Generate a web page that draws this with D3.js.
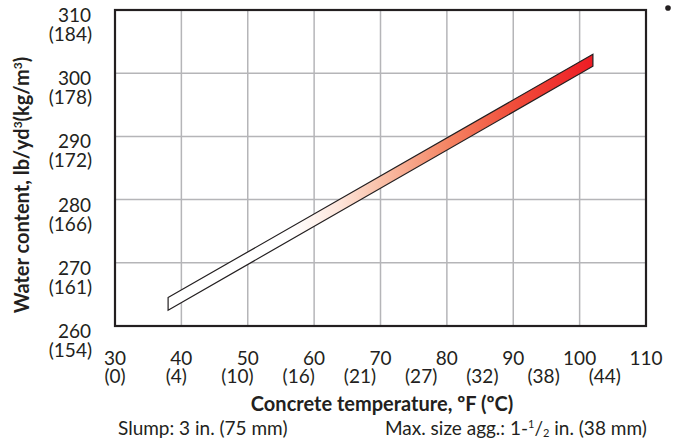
<!DOCTYPE html>
<html>
<head>
<meta charset="utf-8">
<style>
  body { margin: 0; background: #fff; }
  svg { font-family: Lato, "Open Sans", sans-serif; }
  .grid line { stroke: #b5b5b8; stroke-width: 1.5px; }
  .lbl { font-size: 19px; fill: #231f20; }
  .ttl { font-size: 20px; font-weight: bold; fill: #231f20; }
</style>
</head>
<body>
<svg width="675" height="440"></svg>
<script src="https://d3js.org/d3.v7.min.js"></script>
<script>
// data
var tempF = [38, 102];
var waterUpper = [264.5, 303.0];
var waterLower = [262.5, 301.1];

var xTicks = [30, 40, 50, 60, 70, 80, 90, 100, 110];
var celsiusLabels = ["(0)", "(4)", "(10)", "(16)", "(21)", "(27)", "(32)", "(38)", "(44)"];
var yTicks = [260, 270, 280, 290, 300, 310];
var kgLabels = ["(154)", "(161)", "(166)", "(172)", "(178)", "(184)"];

var svg = d3.select("svg");
var mLeft = 115, mRight = 646, mTop = 10, mBottom = 326;

var x = d3.scaleLinear().domain([30, 110]).range([mLeft, mRight]);
var y = d3.scaleLinear().domain([260, 310]).range([mBottom, mTop]);
// celsius labels sit on their own even spacing in the original
var xc = d3.scalePoint().domain(celsiusLabels).range([x(30), x(103.8)]);

// grid
var grid = svg.append("g").attr("class", "grid");
grid.selectAll(".vx").data(xTicks.slice(1, -1)).enter().append("line")
  .attr("x1", function(d) { return x(d); }).attr("x2", function(d) { return x(d); })
  .attr("y1", mTop).attr("y2", mBottom);
grid.selectAll(".hy").data(yTicks.slice(1, -1)).enter().append("line")
  .attr("x1", mLeft).attr("x2", mRight)
  .attr("y1", function(d) { return y(d); }).attr("y2", function(d) { return y(d); });

// gradient band, white on the cool end to red on the hot end
var defs = svg.append("defs");
var grad = defs.append("linearGradient").attr("id", "band")
  .attr("gradientUnits", "userSpaceOnUse")
  .attr("x1", x(tempF[0])).attr("x2", x(tempF[1])).attr("y1", 0).attr("y2", 0);
[[0, "#ffffff"], [0.29, "#ffffff"], [0.40, "#fde6dc"], [0.5, "#f9c0a8"],
 [0.66, "#f48463"], [0.81, "#f04e3b"], [1, "#ed1c24"]]
  .forEach(function(s) { grad.append("stop").attr("offset", s[0]).attr("stop-color", s[1]); });

var area = d3.area()
  .x(function(d, i) { return x(tempF[i]); })
  .y0(function(d, i) { return y(waterLower[i]); })
  .y1(function(d, i) { return y(waterUpper[i]); });

svg.append("path")
  .datum(tempF)
  .attr("d", area)
  .attr("fill", "url(#band)")
  .attr("stroke", "#231f20")
  .attr("stroke-width", 1.2)
  .attr("stroke-linejoin", "miter");

// frame
svg.append("rect")
  .attr("x", mLeft).attr("y", mTop)
  .attr("width", mRight - mLeft).attr("height", mBottom - mTop)
  .attr("fill", "none").attr("stroke", "#231f20").attr("stroke-width", 2.2);

// y labels
var yl = svg.append("g").attr("class", "lbl").attr("text-anchor", "end");
yl.selectAll(".a").data(yTicks).enter().append("text")
  .attr("x", 91).attr("y", function(d) { return y(d) + 12; })
  .text(function(d) { return d; });
yl.selectAll(".b").data(yTicks).enter().append("text")
  .attr("x", 92).attr("y", function(d) { return y(d) + 31; })
  .text(function(d, i) { return kgLabels[i]; });

// x labels
var xl = svg.append("g").attr("class", "lbl").attr("text-anchor", "middle");
xl.selectAll(".a").data(xTicks).enter().append("text")
  .attr("x", function(d) { return x(d); }).attr("y", 365)
  .text(function(d) { return d; });
xl.selectAll(".b").data(celsiusLabels).enter().append("text")
  .attr("x", function(d) { return xc(d); }).attr("y", 383)
  .text(function(d) { return d; });

// titles
svg.append("text").attr("class", "ttl")
  .attr("text-anchor", "middle")
  .attr("x", 382).attr("y", 411)
  .text("Concrete temperature, \u00baF (\u00baC)");

var yt = svg.append("text").attr("class", "ttl")
  .attr("text-anchor", "middle")
  .attr("transform", "translate(29,185) rotate(-90)");
yt.append("tspan").text("Water content, lb/yd");
yt.append("tspan").attr("font-size", 12).attr("dy", -7).text("3");
yt.append("tspan").attr("dy", 7).text("(kg/m");
yt.append("tspan").attr("font-size", 12).attr("dy", -7).text("3");
yt.append("tspan").attr("dy", 7).text(")");

// footnotes
svg.append("text").attr("class", "lbl").attr("x", 118).attr("y", 435)
  .text("Slump: 3 in. (75 mm)");
var fn = svg.append("text").attr("class", "lbl").attr("x", 385).attr("y", 435);
fn.append("tspan").text("Max. size agg.: 1-");
fn.append("tspan").attr("font-size", 11).attr("dy", -7).text("1");
fn.append("tspan").attr("dy", 7).text("/");
fn.append("tspan").attr("font-size", 11).attr("dy", 2).text("2");
fn.append("tspan").attr("dy", -2).text(" in. (38 mm)");

// stray bullet at top right
svg.append("circle").attr("cx", 668).attr("cy", 8).attr("r", 2.8).attr("fill", "#231f20");
</script>
</body>
</html>
